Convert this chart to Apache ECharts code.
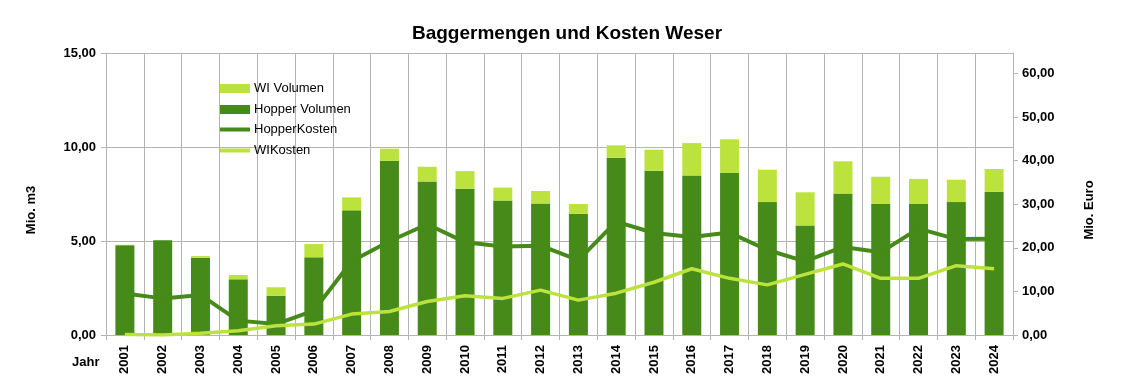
<!DOCTYPE html>
<html><head><meta charset="utf-8">
<script src="https://cdn.jsdelivr.net/npm/echarts@6/dist/echarts.min.js"></script>
<style>html,body{margin:0;padding:0;background:#fff}#c{width:1134px;height:378px}</style>
</head><body><div id="c"></div>
<script>
const years = ['2001','2002','2003','2004','2005','2006','2007','2008','2009','2010','2011','2012','2013','2014','2015','2016','2017','2018','2019','2020','2021','2022','2023','2024'];
const hopperVolumen = [4.78,5.04,4.11,2.96,2.09,4.13,6.63,9.26,8.16,7.78,7.15,6.99,6.44,9.43,8.74,8.49,8.62,7.07,5.83,7.52,6.97,6.97,7.07,7.61];
const wiVolumen = [0.02,0.0,0.09,0.23,0.45,0.71,0.69,0.65,0.79,0.94,0.69,0.67,0.53,0.66,1.12,1.72,1.79,1.72,1.76,1.72,1.45,1.33,1.19,1.22];
const hopperKosten = [9.5,8.4,9.2,3.3,2.5,5.6,16.9,21.5,25.4,21.3,20.3,20.5,17.2,26.0,23.4,22.5,23.5,19.5,16.9,20.2,19.0,24.4,22.0,22.1];
const wiKosten = [0.1,0.0,0.4,1.0,2.1,2.5,4.8,5.4,7.7,9.0,8.4,10.3,8.0,9.6,12.1,15.2,13.0,11.5,13.9,16.3,13.0,13.0,15.9,15.2];
const leftTicks = {min:0, max:15, interval:5};
const rightTicks = {min:0, max:64.7, interval:10};

const DARK = '#468a1a', LIGHT = '#bce33d', GRAY = '#b3b3b3';
const fmt = v => v.toFixed(2).replace('.', ',');
const font = 'Liberation Sans, Arial, sans-serif';
const chart = echarts.init(document.getElementById('c'));
chart.setOption({
  animation:false,
  textStyle:{fontFamily:font},
  title:{text:'Baggermengen und Kosten Weser', left:'center', top:19,
    textStyle:{fontSize:19, fontWeight:'bold', color:'#000', fontFamily:font}},
  grid:{left:106, right:121, top:53, bottom:43},
  legend:[{
    data:['WI Volumen','Hopper Volumen'], orient:'vertical', left:220, top:82, padding:0,
    itemWidth:30, itemHeight:9, itemGap:8, icon:'rect',
    textStyle:{fontSize:13, color:'#000', fontFamily:font, padding:[0,0,0,-1]}
  },{
    data:['HopperKosten','WIKosten'], orient:'vertical', left:220, top:123, padding:0,
    itemWidth:30, itemHeight:4, itemGap:8, icon:'rect',
    textStyle:{fontSize:13, color:'#000', fontFamily:font, padding:[0,0,0,-1]}
  }],
  xAxis:{type:'category', data:years, boundaryGap:true,
    axisLine:{lineStyle:{color:GRAY}},
    axisTick:{show:true, length:5, lineStyle:{color:GRAY}},
    splitLine:{show:true, lineStyle:{color:GRAY}},
    axisLabel:{rotate:90, fontSize:13, fontWeight:'bold', color:'#000', margin:10, fontFamily:font}
  },
  yAxis:[{type:'value', min:leftTicks.min, max:leftTicks.max, interval:leftTicks.interval,
    axisLine:{show:true, lineStyle:{color:GRAY}},
    axisTick:{show:true, length:5, lineStyle:{color:GRAY}},
    splitLine:{show:true, lineStyle:{color:GRAY}},
    axisLabel:{formatter:fmt, fontSize:13, fontWeight:'bold', color:'#000', margin:10, fontFamily:font}
  },{type:'value', min:rightTicks.min, max:rightTicks.max, interval:rightTicks.interval, position:'right',
    axisLine:{show:true, lineStyle:{color:GRAY}},
    axisTick:{show:true, length:5, lineStyle:{color:GRAY}},
    splitLine:{show:false},
    axisLabel:{formatter:fmt, fontSize:13, fontWeight:'bold', color:'#000', margin:9, showMaxLabel:false, fontFamily:font}
  }],
  graphic:[
    {type:'text', x:72, y:356, style:{text:'Jahr', font:'bold 13px Liberation Sans', fill:'#000'}},
    {type:'text', x:31, y:210, rotation:Math.PI/2, style:{text:'Mio. m3', font:'bold 13px Liberation Sans', fill:'#000', align:'center', verticalAlign:'middle'}},
    {type:'text', x:1089, y:210, rotation:Math.PI/2, style:{text:'Mio. Euro', font:'bold 13px Liberation Sans', fill:'#000', align:'center', verticalAlign:'middle'}}
  ],
  series:[
    {name:'Hopper Volumen', type:'bar', stack:'v', data:hopperVolumen, barWidth:19, itemStyle:{color:DARK}},
    {name:'WI Volumen', type:'bar', stack:'v', data:wiVolumen, barWidth:19, itemStyle:{color:LIGHT}},
    {name:'HopperKosten', type:'line', yAxisIndex:1, data:hopperKosten, symbol:'none', z:5,
      lineStyle:{color:DARK, width:4}, itemStyle:{color:DARK}},
    {name:'WIKosten', type:'line', yAxisIndex:1, data:wiKosten, symbol:'none', z:5,
      lineStyle:{color:LIGHT, width:3.5}, itemStyle:{color:LIGHT}}
  ]
});
</script></body></html>
